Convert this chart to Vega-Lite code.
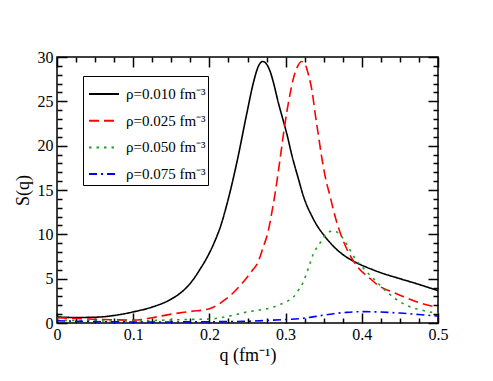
{
  "$schema": "https://vega.github.io/schema/vega-lite/v6.json",
  "width": 381,
  "height": 266,
  "autosize": {"type": "none"},
  "padding": {"left": 57, "top": 57, "right": 55, "bottom": 58},
  "background": "white",
  "config": {
    "view": {"stroke": "black", "strokeWidth": 1.5},
    "font": "Times New Roman, Liberation Serif, serif",
    "text": {"font": "Times New Roman, Liberation Serif, serif"},
    "axis": {"grid": false, "domain": false, "labelFont": "Times New Roman, Liberation Serif, serif", "titleFont": "Times New Roman, Liberation Serif, serif", "labelColor": "black", "titleColor": "black", "tickColor": "black", "tickWidth": 1.5},
    "legend": {"labelFont": "Times New Roman, Liberation Serif, serif"}
  },
  "data": {"values": [
    {"series": "ρ=0.010 fm⁻³", "q": 0.000, "S": 0.68},
    {"series": "ρ=0.010 fm⁻³", "q": 0.025, "S": 0.62},
    {"series": "ρ=0.010 fm⁻³", "q": 0.050, "S": 0.65},
    {"series": "ρ=0.010 fm⁻³", "q": 0.075, "S": 0.85},
    {"series": "ρ=0.010 fm⁻³", "q": 0.100, "S": 1.25},
    {"series": "ρ=0.010 fm⁻³", "q": 0.125, "S": 1.8},
    {"series": "ρ=0.010 fm⁻³", "q": 0.150, "S": 2.7},
    {"series": "ρ=0.010 fm⁻³", "q": 0.165, "S": 3.6},
    {"series": "ρ=0.010 fm⁻³", "q": 0.177, "S": 4.7},
    {"series": "ρ=0.010 fm⁻³", "q": 0.188, "S": 6.1},
    {"series": "ρ=0.010 fm⁻³", "q": 0.200, "S": 7.9},
    {"series": "ρ=0.010 fm⁻³", "q": 0.207, "S": 9.2},
    {"series": "ρ=0.010 fm⁻³", "q": 0.215, "S": 11.0},
    {"series": "ρ=0.010 fm⁻³", "q": 0.223, "S": 13.4},
    {"series": "ρ=0.010 fm⁻³", "q": 0.236, "S": 18.1},
    {"series": "ρ=0.010 fm⁻³", "q": 0.249, "S": 23.6},
    {"series": "ρ=0.010 fm⁻³", "q": 0.258, "S": 27.2},
    {"series": "ρ=0.010 fm⁻³", "q": 0.264, "S": 28.9},
    {"series": "ρ=0.010 fm⁻³", "q": 0.270, "S": 29.5},
    {"series": "ρ=0.010 fm⁻³", "q": 0.275, "S": 29.2},
    {"series": "ρ=0.010 fm⁻³", "q": 0.280, "S": 28.3},
    {"series": "ρ=0.010 fm⁻³", "q": 0.285, "S": 26.8},
    {"series": "ρ=0.010 fm⁻³", "q": 0.290, "S": 25.0},
    {"series": "ρ=0.010 fm⁻³", "q": 0.297, "S": 22.8},
    {"series": "ρ=0.010 fm⁻³", "q": 0.302, "S": 21.2},
    {"series": "ρ=0.010 fm⁻³", "q": 0.308, "S": 19.0},
    {"series": "ρ=0.010 fm⁻³", "q": 0.317, "S": 16.2},
    {"series": "ρ=0.010 fm⁻³", "q": 0.323, "S": 14.4},
    {"series": "ρ=0.010 fm⁻³", "q": 0.336, "S": 11.8},
    {"series": "ρ=0.010 fm⁻³", "q": 0.354, "S": 9.5},
    {"series": "ρ=0.010 fm⁻³", "q": 0.371, "S": 8.0},
    {"series": "ρ=0.010 fm⁻³", "q": 0.393, "S": 6.8},
    {"series": "ρ=0.010 fm⁻³", "q": 0.406, "S": 6.3},
    {"series": "ρ=0.010 fm⁻³", "q": 0.424, "S": 5.7},
    {"series": "ρ=0.010 fm⁻³", "q": 0.450, "S": 5.0},
    {"series": "ρ=0.010 fm⁻³", "q": 0.475, "S": 4.35},
    {"series": "ρ=0.010 fm⁻³", "q": 0.500, "S": 3.65},

    {"series": "ρ=0.025 fm⁻³", "q": 0.000, "S": 0.6},
    {"series": "ρ=0.025 fm⁻³", "q": 0.025, "S": 0.5},
    {"series": "ρ=0.025 fm⁻³", "q": 0.050, "S": 0.42},
    {"series": "ρ=0.025 fm⁻³", "q": 0.075, "S": 0.36},
    {"series": "ρ=0.025 fm⁻³", "q": 0.100, "S": 0.32},
    {"series": "ρ=0.025 fm⁻³", "q": 0.125, "S": 0.6},
    {"series": "ρ=0.025 fm⁻³", "q": 0.150, "S": 1.0},
    {"series": "ρ=0.025 fm⁻³", "q": 0.175, "S": 1.3},
    {"series": "ρ=0.025 fm⁻³", "q": 0.200, "S": 1.6},
    {"series": "ρ=0.025 fm⁻³", "q": 0.210, "S": 2.0},
    {"series": "ρ=0.025 fm⁻³", "q": 0.220, "S": 2.6},
    {"series": "ρ=0.025 fm⁻³", "q": 0.230, "S": 3.3},
    {"series": "ρ=0.025 fm⁻³", "q": 0.240, "S": 4.2},
    {"series": "ρ=0.025 fm⁻³", "q": 0.248, "S": 5.0},
    {"series": "ρ=0.025 fm⁻³", "q": 0.256, "S": 5.9},
    {"series": "ρ=0.025 fm⁻³", "q": 0.264, "S": 6.9},
    {"series": "ρ=0.025 fm⁻³", "q": 0.270, "S": 8.4},
    {"series": "ρ=0.025 fm⁻³", "q": 0.277, "S": 10.3},
    {"series": "ρ=0.025 fm⁻³", "q": 0.282, "S": 12.5},
    {"series": "ρ=0.025 fm⁻³", "q": 0.286, "S": 14.5},
    {"series": "ρ=0.025 fm⁻³", "q": 0.290, "S": 16.8},
    {"series": "ρ=0.025 fm⁻³", "q": 0.294, "S": 19.3},
    {"series": "ρ=0.025 fm⁻³", "q": 0.298, "S": 21.8},
    {"series": "ρ=0.025 fm⁻³", "q": 0.302, "S": 24.0},
    {"series": "ρ=0.025 fm⁻³", "q": 0.306, "S": 25.9},
    {"series": "ρ=0.025 fm⁻³", "q": 0.310, "S": 27.5},
    {"series": "ρ=0.025 fm⁻³", "q": 0.315, "S": 28.8},
    {"series": "ρ=0.025 fm⁻³", "q": 0.321, "S": 29.5},
    {"series": "ρ=0.025 fm⁻³", "q": 0.326, "S": 29.1},
    {"series": "ρ=0.025 fm⁻³", "q": 0.330, "S": 28.0},
    {"series": "ρ=0.025 fm⁻³", "q": 0.335, "S": 26.0},
    {"series": "ρ=0.025 fm⁻³", "q": 0.339, "S": 23.5},
    {"series": "ρ=0.025 fm⁻³", "q": 0.343, "S": 21.2},
    {"series": "ρ=0.025 fm⁻³", "q": 0.347, "S": 18.9},
    {"series": "ρ=0.025 fm⁻³", "q": 0.352, "S": 16.5},
    {"series": "ρ=0.025 fm⁻³", "q": 0.358, "S": 14.4},
    {"series": "ρ=0.025 fm⁻³", "q": 0.367, "S": 11.4},
    {"series": "ρ=0.025 fm⁻³", "q": 0.380, "S": 8.4},
    {"series": "ρ=0.025 fm⁻³", "q": 0.393, "S": 6.5},
    {"series": "ρ=0.025 fm⁻³", "q": 0.411, "S": 5.0},
    {"series": "ρ=0.025 fm⁻³", "q": 0.424, "S": 4.1},
    {"series": "ρ=0.025 fm⁻³", "q": 0.440, "S": 3.5},
    {"series": "ρ=0.025 fm⁻³", "q": 0.454, "S": 3.0},
    {"series": "ρ=0.025 fm⁻³", "q": 0.475, "S": 2.3},
    {"series": "ρ=0.025 fm⁻³", "q": 0.500, "S": 1.75},

    {"series": "ρ=0.050 fm⁻³", "q": 0.000, "S": 0.3},
    {"series": "ρ=0.050 fm⁻³", "q": 0.025, "S": 0.28},
    {"series": "ρ=0.050 fm⁻³", "q": 0.050, "S": 0.25},
    {"series": "ρ=0.050 fm⁻³", "q": 0.075, "S": 0.22},
    {"series": "ρ=0.050 fm⁻³", "q": 0.100, "S": 0.22},
    {"series": "ρ=0.050 fm⁻³", "q": 0.125, "S": 0.28},
    {"series": "ρ=0.050 fm⁻³", "q": 0.150, "S": 0.35},
    {"series": "ρ=0.050 fm⁻³", "q": 0.175, "S": 0.4},
    {"series": "ρ=0.050 fm⁻³", "q": 0.200, "S": 0.45},
    {"series": "ρ=0.050 fm⁻³", "q": 0.230, "S": 0.85},
    {"series": "ρ=0.050 fm⁻³", "q": 0.250, "S": 1.25},
    {"series": "ρ=0.050 fm⁻³", "q": 0.266, "S": 1.47},
    {"series": "ρ=0.050 fm⁻³", "q": 0.280, "S": 1.7},
    {"series": "ρ=0.050 fm⁻³", "q": 0.293, "S": 2.1},
    {"series": "ρ=0.050 fm⁻³", "q": 0.303, "S": 2.5},
    {"series": "ρ=0.050 fm⁻³", "q": 0.310, "S": 2.9},
    {"series": "ρ=0.050 fm⁻³", "q": 0.316, "S": 3.6},
    {"series": "ρ=0.050 fm⁻³", "q": 0.323, "S": 4.6},
    {"series": "ρ=0.050 fm⁻³", "q": 0.330, "S": 6.2},
    {"series": "ρ=0.050 fm⁻³", "q": 0.336, "S": 7.7},
    {"series": "ρ=0.050 fm⁻³", "q": 0.345, "S": 9.0},
    {"series": "ρ=0.050 fm⁻³", "q": 0.354, "S": 10.1},
    {"series": "ρ=0.050 fm⁻³", "q": 0.363, "S": 10.4},
    {"series": "ρ=0.050 fm⁻³", "q": 0.374, "S": 9.7},
    {"series": "ρ=0.050 fm⁻³", "q": 0.382, "S": 8.6},
    {"series": "ρ=0.050 fm⁻³", "q": 0.391, "S": 7.3},
    {"series": "ρ=0.050 fm⁻³", "q": 0.404, "S": 6.0},
    {"series": "ρ=0.050 fm⁻³", "q": 0.420, "S": 4.6},
    {"series": "ρ=0.050 fm⁻³", "q": 0.433, "S": 3.5},
    {"series": "ρ=0.050 fm⁻³", "q": 0.454, "S": 2.2},
    {"series": "ρ=0.050 fm⁻³", "q": 0.481, "S": 1.4},
    {"series": "ρ=0.050 fm⁻³", "q": 0.500, "S": 1.1},

    {"series": "ρ=0.075 fm⁻³", "q": 0.000, "S": 0.25},
    {"series": "ρ=0.075 fm⁻³", "q": 0.025, "S": 0.2},
    {"series": "ρ=0.075 fm⁻³", "q": 0.050, "S": 0.15},
    {"series": "ρ=0.075 fm⁻³", "q": 0.100, "S": 0.12},
    {"series": "ρ=0.075 fm⁻³", "q": 0.150, "S": 0.12},
    {"series": "ρ=0.075 fm⁻³", "q": 0.200, "S": 0.14},
    {"series": "ρ=0.075 fm⁻³", "q": 0.250, "S": 0.2},
    {"series": "ρ=0.075 fm⁻³", "q": 0.300, "S": 0.4},
    {"series": "ρ=0.075 fm⁻³", "q": 0.320, "S": 0.5},
    {"series": "ρ=0.075 fm⁻³", "q": 0.340, "S": 0.75},
    {"series": "ρ=0.075 fm⁻³", "q": 0.363, "S": 1.05},
    {"series": "ρ=0.075 fm⁻³", "q": 0.380, "S": 1.2},
    {"series": "ρ=0.075 fm⁻³", "q": 0.402, "S": 1.28},
    {"series": "ρ=0.075 fm⁻³", "q": 0.420, "S": 1.25},
    {"series": "ρ=0.075 fm⁻³", "q": 0.450, "S": 1.12},
    {"series": "ρ=0.075 fm⁻³", "q": 0.475, "S": 0.95},
    {"series": "ρ=0.075 fm⁻³", "q": 0.500, "S": 0.78}
  ]},
  "layer": [
    {
      "mark": {"type": "line", "strokeWidth": 1.6, "clip": true, "interpolate": "monotone"},
      "encoding": {
        "x": {"field": "q", "type": "quantitative",
          "scale": {"domain": [0, 0.5], "nice": false, "zero": false},
          "axis": {"orient": "bottom", "values": [0, 0.1, 0.2, 0.3, 0.4, 0.5], "ticks": false,
            "labelFont": "Times New Roman, Liberation Serif, serif", "titleFont": "Times New Roman, Liberation Serif, serif",
            "labelPadding": 3, "labelFontSize": 16, "labelFlush": false,
            "labelExpr": "datum.value == 0 ? '0' : format(datum.value, '.1f')",
            "title": "q (fm⁻¹)", "titleFontSize": 18, "titleFontWeight": "normal", "titlePadding": 4}},
        "y": {"field": "S", "type": "quantitative",
          "scale": {"domain": [0, 30], "nice": false, "zero": false},
          "axis": {"orient": "left", "values": [0, 5, 10, 15, 20, 25, 30], "ticks": false,
            "labelFont": "Times New Roman, Liberation Serif, serif", "titleFont": "Times New Roman, Liberation Serif, serif",
            "labelPadding": 4, "labelFontSize": 16, "labelFlush": false,
            "title": "S(q)", "titleFontSize": 18, "titleFontWeight": "normal", "titlePadding": 5}},
        "color": {"field": "series", "type": "nominal",
          "scale": {"domain": ["ρ=0.010 fm⁻³", "ρ=0.025 fm⁻³", "ρ=0.050 fm⁻³", "ρ=0.075 fm⁻³"], "range": ["black", "#ff0000", "#1f9e1f", "#0000ff"]},
          "legend": {"title": null, "orient": "none", "legendX": 26, "legendY": 19,
            "strokeColor": "black", "fillColor": "white", "padding": 2, "symbolOffset": 3,
            "symbolType": "stroke", "symbolSize": 900, "symbolStrokeWidth": 2,
            "labelFont": "Times New Roman, Liberation Serif, serif",
            "labelFontSize": 15, "labelOffset": 6, "rowPadding": 2.7, "labelColor": "black"}},
        "strokeDash": {"field": "series", "type": "nominal",
          "scale": {"domain": ["ρ=0.010 fm⁻³", "ρ=0.025 fm⁻³", "ρ=0.050 fm⁻³", "ρ=0.075 fm⁻³"], "range": [[1, 0], [10, 5], [2.5, 5], [8, 4, 2, 4]]},
          "legend": {"title": null, "orient": "none", "legendX": 26, "legendY": 19,
            "strokeColor": "black", "fillColor": "white", "padding": 2, "symbolOffset": 3,
            "symbolType": "stroke", "symbolSize": 900, "symbolStrokeWidth": 2,
            "labelFont": "Times New Roman, Liberation Serif, serif",
            "labelFontSize": 15, "labelOffset": 6, "rowPadding": 2.7, "labelColor": "black"}}
      }
    },
    {
      "mark": {"type": "point", "opacity": 0},
      "encoding": {
        "x": {"field": "q", "type": "quantitative",
          "axis": {"orient": "bottom", "labels": false, "title": null,
            "values": [0, 0.025, 0.05, 0.075, 0.1, 0.125, 0.15, 0.175, 0.2, 0.225, 0.25, 0.275, 0.3, 0.325, 0.35, 0.375, 0.4, 0.425, 0.45, 0.475, 0.5],
            "tickSize": {"condition": {"test": "abs(datum.value*10 - round(datum.value*10)) < 0.001", "value": -10}, "value": -5}}},
        "y": {"field": "S", "type": "quantitative",
          "axis": {"orient": "left", "labels": false, "title": null,
            "values": [0,1,2,3,4,5,6,7,8,9,10,11,12,13,14,15,16,17,18,19,20,21,22,23,24,25,26,27,28,29,30],
            "tickSize": {"condition": {"test": "datum.value % 5 == 0", "value": -10}, "value": -5}}}
      }
    },
    {
      "mark": {"type": "point", "opacity": 0},
      "encoding": {
        "x": {"field": "q", "type": "quantitative",
          "axis": {"orient": "top", "labels": false, "title": null,
            "values": [0, 0.025, 0.05, 0.075, 0.1, 0.125, 0.15, 0.175, 0.2, 0.225, 0.25, 0.275, 0.3, 0.325, 0.35, 0.375, 0.4, 0.425, 0.45, 0.475, 0.5],
            "tickSize": {"condition": {"test": "abs(datum.value*10 - round(datum.value*10)) < 0.001", "value": -10}, "value": -5}}},
        "y": {"field": "S", "type": "quantitative",
          "axis": {"orient": "right", "labels": false, "title": null,
            "values": [0,1,2,3,4,5,6,7,8,9,10,11,12,13,14,15,16,17,18,19,20,21,22,23,24,25,26,27,28,29,30],
            "tickSize": {"condition": {"test": "datum.value % 5 == 0", "value": -10}, "value": -5}}}
      }
    }
  ],
  "resolve": {"axis": {"x": "independent", "y": "independent"}}
}
